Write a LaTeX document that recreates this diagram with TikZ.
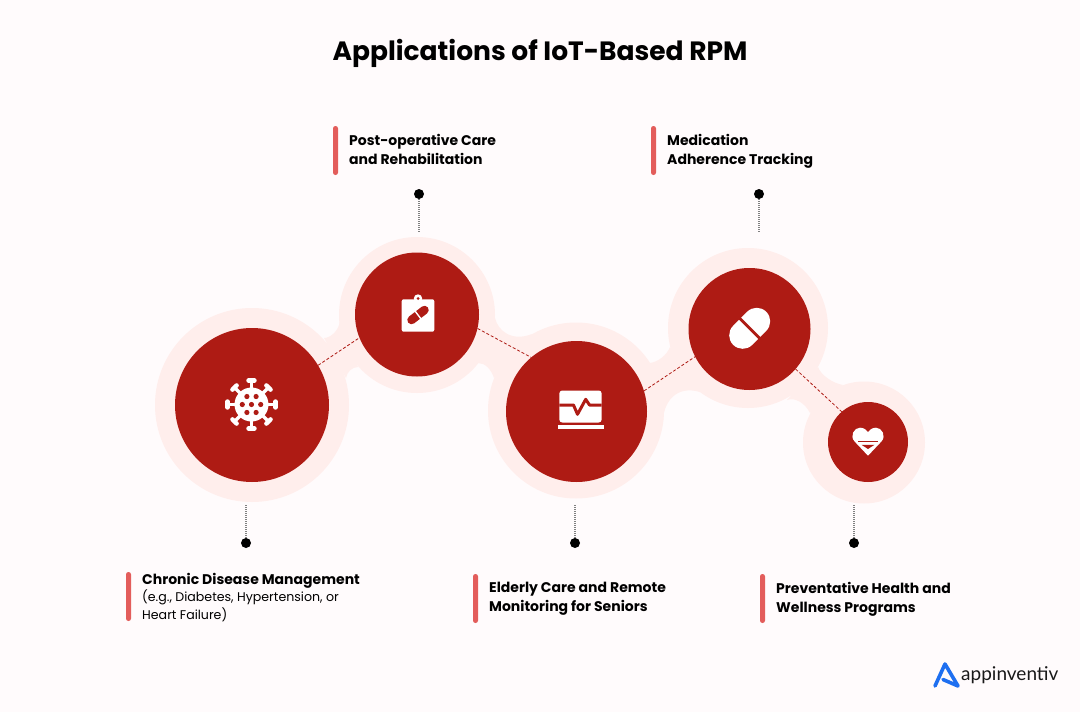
\documentclass[tikz,border=0pt]{standalone}
\usepackage{fontspec}
\setmainfont{Poppins}
\newfontfamily\logofont{Lato}
\usetikzlibrary{arrows.meta}
\definecolor{pagetint}{HTML}{FFFBFC}
\definecolor{halotint}{HTML}{FFEEEC}
\definecolor{discred}{HTML}{AE1B14}
\definecolor{barred}{HTML}{E35D5B}
\definecolor{logoblue}{HTML}{1E6FF0}
\tikzset{
  halo/.style={circle,fill=halotint,inner sep=0pt},
  disc/.style={circle,fill=discred,inner sep=0pt},
  link/.style={discred,line width=0.8pt,dash pattern=on 3pt off 2pt},
  leader/.style={black!50,line width=1.2pt,dash pattern=on 1pt off 1pt},
  pin/.style={circle,fill=black,inner sep=0pt,minimum size=10pt},
  bar/.style={fill=barred,rounded corners=2.4pt,inner sep=0pt,minimum width=5pt,minimum height=49pt},
  label/.style={anchor=west,align=left,inner sep=0pt,font=\fontsize{14}{19}\selectfont\bfseries},
  icon/.style={fill=white,draw=none}
}
\begin{document}
\begin{tikzpicture}[x=1pt,y=-1pt]
  \useasboundingbox (0,0) rectangle (1080,712);
  \fill[pagetint] (0,0) rectangle (1080,712);
  \node[font=\fontsize{26.5}{32}\selectfont\bfseries] (title) at (540,53) {Applications of IoT-Based RPM};

  \fill[halotint] (324,338) .. controls (331,338) and (339,330) .. (340,321) -- (358,367) .. controls (352,367) and (347,372) .. (346,378) -- cycle;
  \fill[halotint] (495,318) .. controls (498,331) and (512,342) .. (532,334) -- (494,378) .. controls (491,369) and (485,363) .. (478,363) -- cycle;
  \fill[halotint] (650,363) .. controls (658,362) and (667,355) .. (670,347) -- (700,392) .. controls (676,385) and (664,402) .. (663,420) -- cycle;
  \fill[halotint] (818,367) .. controls (821,375) and (832,383) .. (843,385) -- (810,413) .. controls (805,403) and (795,397) .. (787,400) -- cycle;

  \node[halo,minimum size=194pt] (haloA) at (252,405) {};
  \node[halo,minimum size=156pt] (haloB) at (417,315) {};
  \node[halo,minimum size=176pt] (haloC) at (576,410.5) {};
  \node[halo,minimum size=160pt] (haloD) at (748,328) {};
  \node[halo,minimum size=122pt] (haloE) at (864,442.5) {};

  \node[disc,minimum size=154pt] (chronic) at (252,405) {};
  \node[disc,minimum size=124pt] (postop) at (417,314.5) {};
  \node[disc,minimum size=141pt] (elderly) at (576.5,411.5) {};
  \node[disc,minimum size=122pt] (medication) at (749.5,329) {};
  \node[disc,minimum size=80pt] (wellness) at (868,442) {};

  \draw[link] (chronic.31) -- (postop.202);
  \draw[link] (postop.-13) -- (elderly.130);
  \draw[link] (elderly.17) -- (medication.207);
  \draw[link] (medication.-41) -- (wellness.131);

  \node[pin] (pinB) at (419,194) {};
  \node[pin] (pinD) at (759,194) {};
  \node[pin] (pinA) at (246,543) {};
  \node[pin] (pinC) at (575,543) {};
  \node[pin] (pinE) at (854,543) {};
  \coordinate (tipB) at (419,233);
  \coordinate (tipD) at (759,233);
  \coordinate (tipA) at (246,505);
  \coordinate (tipC) at (575,505);
  \coordinate (tipE) at (854,505);
  \foreach \p in {A,B,C,D,E} {
    \draw[leader] (pin\p) -- (tip\p);
  }

  \node[bar] (barB) at (335.5,150.5) {};
  \node[bar] (barD) at (653.5,150.5) {};
  \node[bar] (barA) at (128.5,596.5) {};
  \node[bar] (barC) at (475.5,598.5) {};
  \node[bar] (barE) at (762.5,598.5) {};
  \node[label] (textB) at (349,149.5) {Post-operative Care\\and Rehabilitation};
  \node[label] (textD) at (667,151) {Medication\\Adherence Tracking};
  \node[label] (textA) at (142,597.5) {Chronic Disease Management\\[-1.5pt]{\fontsize{12.6}{17.4}\selectfont\mdseries (e.g., Diabetes, Hypertension, or}\\[-1.5pt]{\fontsize{12.6}{17.4}\selectfont\mdseries Heart Failure)}};
  \node[label] (textC) at (489,599) {Elderly Care and Remote\\Monitoring for Seniors};
  \node[label] (textE) at (776,599) {Preventative Health and\\Wellness Programs};

  \begin{scope}[shift={(251.5,404.5)}]
    \foreach \a in {0,45,...,315} {
      \draw[white,line width=3.4pt,rotate=\a] (0,0) -- (24,0);
      \draw[white,line width=4.4pt,line cap=round,rotate=\a] (24,-3) -- (24,3);
    }
    \fill[white] (0,0) circle (17);
    \fill[discred] (0,0) circle (2.6);
    \foreach \a in {0,60,...,300} {
      \fill[discred] (\a:9.2) circle (2.6);
    }
  \end{scope}

  \begin{scope}[shift={(418,315)}]
    \fill[white] (0,-16.5) circle (4.2);
    \fill[icon,rounded corners=2pt] (-16.3,-15.7) rectangle (16.3,16.7);
    \fill[discred] (0,-16.5) circle (1.5);
    \draw[discred,line width=8.5pt,line cap=round] (-6.5,5) -- (6.5,-5);
    \draw[white,line width=1.4pt] (-3,-4) -- (3,4);
  \end{scope}

  \begin{scope}[shift={(580.5,406.5)}]
    \fill[icon,rounded corners=3pt] (-21.2,-16) rectangle (21.2,16);
    \draw[discred,line width=3pt,line join=round] (-21.2,-1.5) -- (-7,-1.5) -- (-3,7.8) -- (5.2,-7.2) -- (9,-1.5) -- (21.2,-1.5);
    \fill[white] (-23,18.5) rectangle (23.5,22.8);
  \end{scope}

  \begin{scope}[shift={(749.7,328.3)}]
    \draw[white,line width=27pt,line cap=round] (-7,7) -- (7,-7);
    \draw[discred,line width=2.8pt] (-14,-14) -- (14,14);
  \end{scope}

  \begin{scope}[shift={(868,442)}]
    \fill[white] (0,13.7) -- (-13.4,-0.5) .. controls (-18.5,-6) and (-14,-14.3) .. (-8,-14.3) .. controls (-4,-14.3) and (-1.5,-12) .. (0,-10) .. controls (1.5,-12) and (4,-14.3) .. (8,-14.3) .. controls (14,-14.3) and (18.5,-6) .. (13.4,-0.5) -- cycle;
    \fill[discred] (-10,-1) rectangle (10,0.4);
    \fill[discred] (-6.5,2.8) -- (6.5,2.8) -- (0,7) -- cycle;
  \end{scope}

  \draw[logoblue,line width=3.6pt,line cap=round,line join=round] (935,686) -- (945,664) -- (958,686) -- (943,679.5);
  \node[anchor=west,inner sep=0pt,font=\logofont\fontsize{19}{24}\selectfont,text=black!90] (logotext) at (961,675) {appinventiv};
\end{tikzpicture}
\end{document}
